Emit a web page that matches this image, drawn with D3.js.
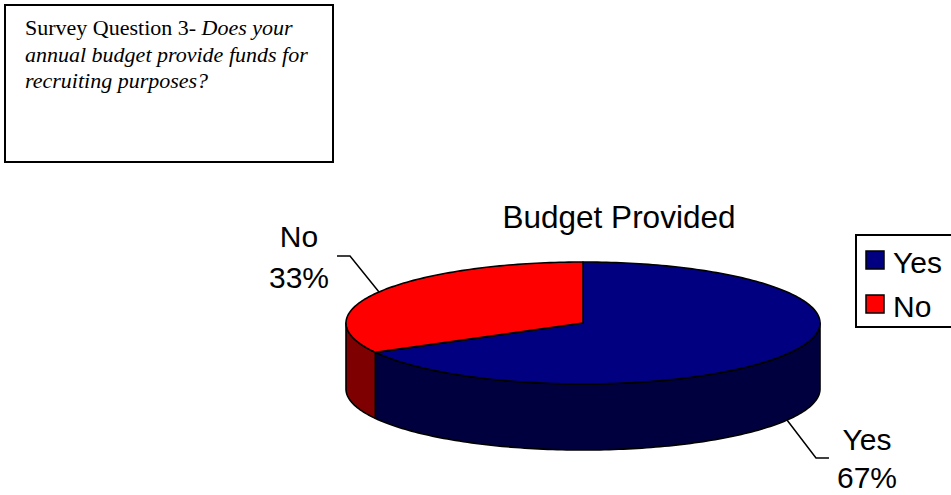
<!DOCTYPE html>
<html>
<head>
<meta charset="utf-8">
<script src="https://cdn.jsdelivr.net/npm/d3@7"></script>
<style>
  html, body { margin: 0; padding: 0; background: #fff; overflow: hidden; }
  svg { display: block; }
</style>
</head>
<body>
<div id="chart"></div>
<script>
// chart data
const categories = ['Yes', 'No'];
const values = [67, 33];
const percentLabels = ['67%', '33%'];
const chartTitle = 'Budget Provided';
const questionLead = 'Survey Question 3- ';
const questionLines = ['Does your', 'annual budget provide funds for', 'recruiting purposes?'];

const width = 951;
const height = 495;

const topColors = d3.scaleOrdinal().domain(categories).range(['#000080', '#ff0000']);
const sideColors = d3.scaleOrdinal().domain(categories).range(['#00003e', '#7f0000']);

const svg = d3.select('#chart')
    .append('svg')
    .attr('width', width)
    .attr('height', height);

// question box
const box = svg.append('g');
box.append('rect')
    .attr('x', 5)
    .attr('y', 5)
    .attr('width', 328)
    .attr('height', 157)
    .attr('fill', '#fff')
    .attr('stroke', '#000')
    .attr('stroke-width', 2);

const qText = box.append('text')
    .attr('font-family', '"Liberation Serif", "Times New Roman", serif')
    .attr('font-size', 22)
    .attr('fill', '#000');
qText.append('tspan').attr('x', 25).attr('y', 35).text(questionLead);
qText.append('tspan').attr('font-style', 'italic').text(questionLines[0]);
questionLines.slice(1).forEach((line, i) => {
    qText.append('tspan')
        .attr('x', 25)
        .attr('y', 61.5 + i * 26.5)
        .attr('font-style', 'italic')
        .text(line);
});

// 3d pie
const pie3d = {
    cx: 583,
    cy: 323,
    rx: 237,
    ry: 61,
    depth: 66,
};

const pie = d3.pie().sort(null).value(d => d.value);
const arcs = pie(categories.map((c, i) => ({ name: c, value: values[i], pct: percentLabels[i] })));

const px = a => pie3d.cx + pie3d.rx * Math.sin(a);
const py = a => pie3d.cy - pie3d.ry * Math.cos(a);

const sample = (a0, a1) => {
    const n = Math.max(2, Math.ceil(Math.abs(a1 - a0) / 0.02));
    return d3.range(n + 1).map(k => a0 + (a1 - a0) * k / n);
};

const line = d3.line();
const pieG = svg.append('g');

// side walls (front half only)
arcs.forEach(d => {
    const a0 = Math.max(d.startAngle, Math.PI / 2);
    const a1 = Math.min(d.endAngle, Math.PI * 1.5);
    if (a0 >= a1) return;
    const topPts = sample(a0, a1).map(a => [px(a), py(a)]);
    const botPts = sample(a1, a0).map(a => [px(a), py(a) + pie3d.depth]);
    pieG.append('path')
        .attr('d', line(topPts.concat(botPts)) + 'Z')
        .attr('fill', sideColors(d.data.name))
        .attr('stroke', '#000')
        .attr('stroke-width', 1.6)
        .attr('stroke-linejoin', 'round');
});

// top faces
arcs.forEach(d => {
    const pts = [[pie3d.cx, pie3d.cy]].concat(sample(d.startAngle, d.endAngle).map(a => [px(a), py(a)]));
    pieG.append('path')
        .attr('d', line(pts) + 'Z')
        .attr('fill', topColors(d.data.name))
        .attr('stroke', '#000')
        .attr('stroke-width', 1.6)
        .attr('stroke-linejoin', 'round');
});

// title
svg.append('text')
    .attr('x', 619)
    .attr('y', 228)
    .attr('text-anchor', 'middle')
    .attr('font-family', '"Liberation Sans", Arial, sans-serif')
    .attr('font-size', 31.5)
    .attr('fill', '#000')
    .text(chartTitle);

// data labels with leader lines
arcs.forEach(d => {
    const mid = (d.startAngle + d.endAngle) / 2;
    const front = Math.cos(mid) < 0;
    const sx = px(mid);
    const sy = py(mid) + (front ? pie3d.depth : 0);
    const dir = Math.sin(mid) >= 0 ? 1 : -1;
    const ex = sx + dir * 29;
    const ey = sy + (front ? 38 : -36);
    const fx = ex + dir * 13;
    svg.append('path')
        .attr('d', line([[sx, sy], [ex, ey], [fx, ey]]))
        .attr('fill', 'none')
        .attr('stroke', '#000')
        .attr('stroke-width', 1.5);
    const lx = fx + dir * 38;
    const t = svg.append('text')
        .attr('text-anchor', 'middle')
        .attr('font-family', '"Liberation Sans", Arial, sans-serif')
        .attr('font-size', 30)
        .attr('fill', '#000');
    t.append('tspan').attr('x', lx).attr('y', ey + (front ? -8 : -9)).text(d.data.name);
    t.append('tspan').attr('x', lx).attr('y', ey + (front ? 30 : 32)).text(d.data.pct);
});

// legend
const legend = svg.append('g');
legend.append('rect')
    .attr('x', 856)
    .attr('y', 235)
    .attr('width', 140)
    .attr('height', 92)
    .attr('fill', '#fff')
    .attr('stroke', '#000')
    .attr('stroke-width', 2);

categories.forEach((c, i) => {
    const y = 251 + i * 44;
    legend.append('rect')
        .attr('x', 866)
        .attr('y', y)
        .attr('width', 18)
        .attr('height', 18)
        .attr('fill', topColors(c))
        .attr('stroke', '#000')
        .attr('stroke-width', 1.5);
    legend.append('text')
        .attr('x', 893)
        .attr('y', y + 22)
        .attr('font-family', '"Liberation Sans", Arial, sans-serif')
        .attr('font-size', 30)
        .attr('fill', '#000')
        .text(c);
});
</script>
</body>
</html>
